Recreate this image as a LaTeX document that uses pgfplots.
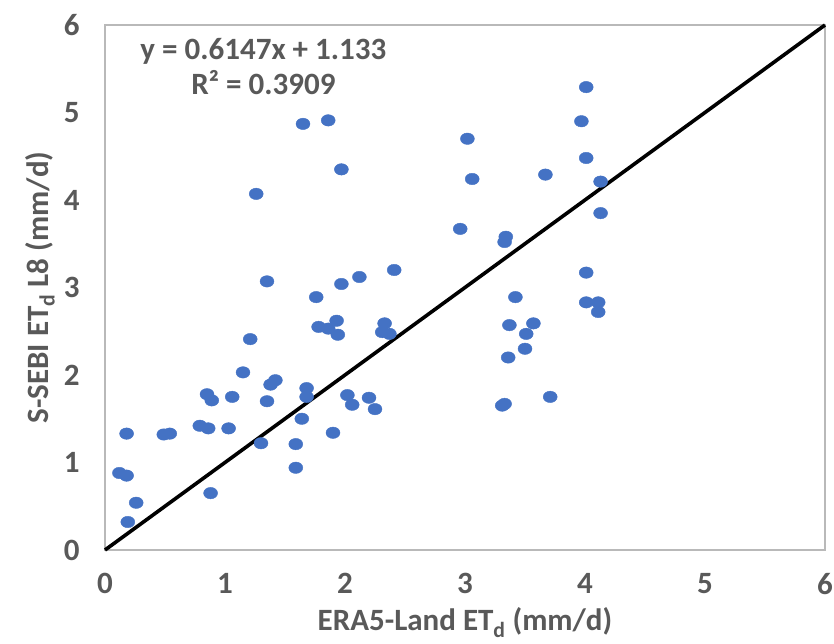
\documentclass[border=0pt]{standalone}
\usepackage{pgfplots}
\pgfplotsset{compat=1.18}
\usepackage{fontspec}
\setmainfont{Carlito}
\definecolor{txt}{HTML}{595959}
\definecolor{dot}{HTML}{4472C4}
\pgfplotstableread{
x y
0.12 0.88
0.18 0.85
0.18 1.33
0.26 0.54
0.19 0.32
0.49 1.32
0.54 1.33
0.79 1.42
0.86 1.39
0.85 1.78
0.89 1.71
0.88 0.65
1.03 1.39
1.06 1.75
1.15 2.03
1.21 2.41
1.30 1.22
1.35 1.70
1.38 1.89
1.42 1.94
1.59 1.21
1.59 0.94
1.64 1.50
1.68 1.85
1.68 1.75
1.90 1.34
1.78 2.55
1.86 2.53
1.93 2.62
1.94 2.46
1.35 3.07
1.76 2.89
1.97 3.04
2.12 3.12
2.41 3.20
1.26 4.07
1.65 4.87
1.86 4.91
1.97 4.35
2.33 2.59
2.31 2.49
2.37 2.47
2.02 1.77
2.06 1.66
2.20 1.74
2.25 1.61
3.42 2.89
3.37 2.57
3.57 2.59
3.51 2.47
3.50 2.30
3.36 2.20
3.31 1.65
3.33 1.67
3.71 1.75
4.01 3.17
4.01 2.83
4.11 2.83
4.11 2.72
4.01 5.29
3.97 4.90
3.02 4.70
3.06 4.24
3.67 4.29
4.01 4.48
4.13 4.21
4.13 3.85
2.96 3.67
3.34 3.58
3.33 3.52
}\pts
\begin{document}
\begin{tikzpicture}[x=1pt,y=1pt]
\begin{axis}[
  scale only axis,
  width=720pt, height=525pt,
  xmin=0, xmax=6, ymin=0, ymax=6,
  xtick={0,1,...,6}, ytick={0,1,...,6},
  major tick length=0pt,
  axis line style={draw=gray!55, line width=1.5pt},
  /pgf/number format/assume math mode=true,
  ticklabel style={font=\fontsize{31}{34}\selectfont\bfseries, text=txt},
  xticklabel style={yshift=-20pt},
  yticklabel style={xshift=-22pt},
  xlabel={ERA5-Land ET\textsubscript{d} (mm/d)},
  ylabel={S-SEBI ET\textsubscript{d} L8 (mm/d)},
  label style={font=\fontsize{31}{34}\selectfont\bfseries, text=txt},
  xlabel style={yshift=-6pt},
  ylabel style={yshift=2pt},
  clip=false,
]
\addplot[only marks, color=dot, mark=*, mark size=7pt, mark options={fill=dot, draw=dot, yscale=0.82}] table[x=x,y=y]{\pts};
\addplot[black, line width=3.6pt, no marks] coordinates {(0,0) (6,6)};
\node[font=\fontsize{31}{35}\selectfont\bfseries, text=txt, align=center, anchor=north, inner sep=0pt] at (axis cs:1.32,5.85) {y = 0.6147x + 1.133\\R² = 0.3909};
\coordinate (SW) at (rel axis cs:0,0);
\coordinate (NE) at (rel axis cs:1,1);
\end{axis}
\pgfresetboundingbox
\path ([xshift=-105pt,yshift=-94pt]SW) rectangle ([xshift=9pt,yshift=25pt]NE);
\end{tikzpicture}
\end{document}
